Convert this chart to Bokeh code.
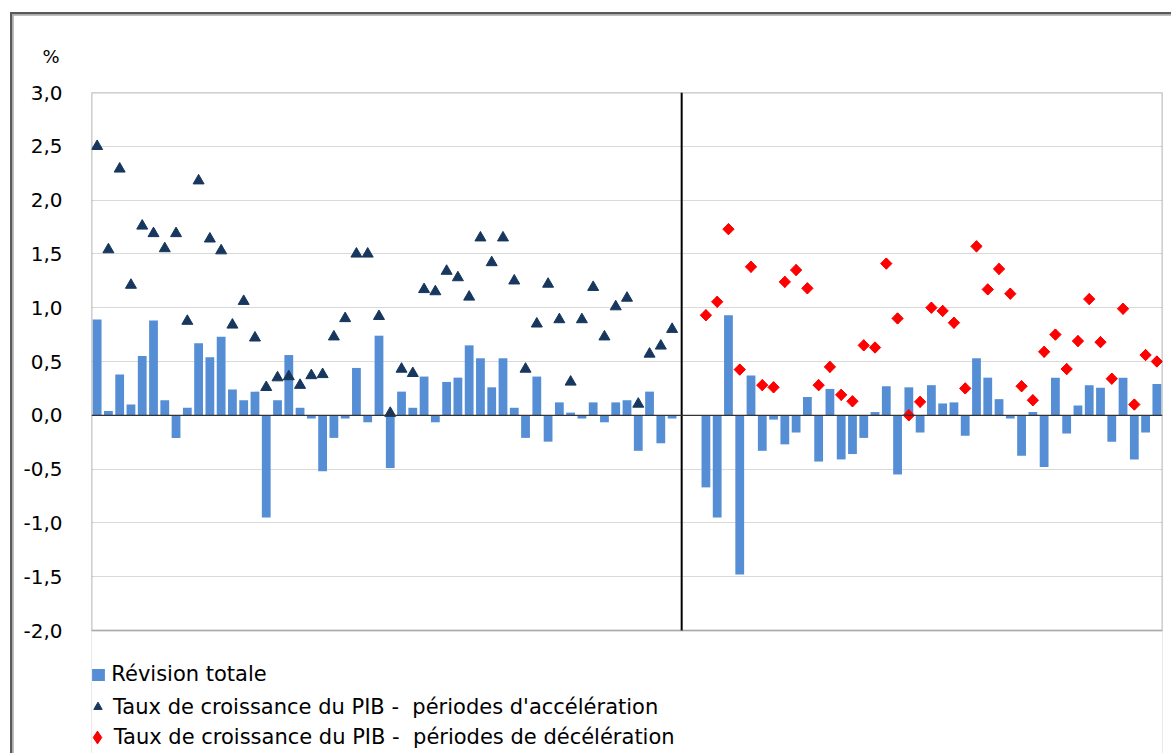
import numpy as np
from bokeh.plotting import figure
from bokeh.models import (Range1d, FixedTicker, CustomJSTickFormatter, Span, Title,
                          Legend, LegendItem, BoxAnnotation)
from bokeh.embed import file_html
from bokeh.resources import INLINE

# ---- data ----
accel_revision = [0.89, 0.04, 0.38, 0.10, 0.55, 0.88, 0.14, -0.21, 0.07, 0.67, 0.54, 0.73, 0.24,
                  0.14, 0.22, -0.95, 0.14, 0.56, 0.07, -0.03, -0.52, -0.21, -0.03, 0.44, -0.065, 0.74,
                  -0.49, 0.22, 0.07, 0.36, -0.065, 0.31, 0.35, 0.65, 0.53, 0.26, 0.53, 0.07, -0.21,
                  0.36, -0.245, 0.12, 0.025, -0.03, 0.12, -0.065, 0.12, 0.14, -0.33, 0.22, -0.26, -0.03]
accel_growth = [2.50, 1.54, 2.29, 1.21, 1.76, 1.69, 1.55, 1.69, 0.875, 2.18, 1.64, 1.53, 0.84,
                1.06, 0.72, 0.26, 0.35, 0.36, 0.28, 0.37, 0.38, 0.73, 0.90, 1.50, 1.50, 0.92,
                0.02, 0.43, 0.39, 1.17, 1.15, 1.34, 1.28, 1.10, 1.65, 1.42, 1.65, 1.25, 0.43,
                0.85, 1.22, 0.89, 0.31, 0.89, 1.19, 0.73, 1.01, 1.09, 0.105, 0.57, 0.645, 0.80]
decel_revision = [-0.67, -0.95, 0.93, -1.48, 0.37, -0.33, -0.04, -0.27, -0.16, 0.17, -0.43, 0.245,
                  -0.41, -0.36, -0.21, 0.03, 0.27, -0.55, 0.26, -0.16, 0.28, 0.11, 0.12, -0.19,
                  0.53, 0.35, 0.15, -0.03, -0.375, 0.03, -0.48, 0.35, -0.17, 0.09, 0.28, 0.255,
                  -0.245, 0.35, -0.41, -0.16, 0.29]
decel_growth = [0.93, 1.055, 1.73, 0.425, 1.38, 0.28, 0.26, 1.24, 1.35, 1.18, 0.28, 0.45, 0.19,
                0.13, 0.65, 0.63, 1.41, 0.90, 0.0, 0.125, 1.00, 0.97, 0.86, 0.25, 1.57, 1.17,
                1.36, 1.13, 0.27, 0.14, 0.59, 0.75, 0.43, 0.69, 1.08, 0.68, 0.34, 0.99, 0.10,
                0.56, 0.50]
y_ticks = [-2.0, -1.5, -1.0, -0.5, 0.0, 0.5, 1.0, 1.5, 2.0, 2.5, 3.0]
unit_label = "%"
legend_labels = ["Révision totale",
                 "Taux de croissance du PIB -  périodes d'accélération",
                 "Taux de croissance du PIB -  périodes de décélération"]

GAP = 2  # empty slots between the two periods
accel_x = np.arange(len(accel_revision))
decel_x = np.arange(len(decel_revision)) + len(accel_revision) + GAP
n_total = len(accel_revision) + GAP + len(decel_revision)
all_x = np.concatenate([accel_x, decel_x])
all_rev = accel_revision + decel_revision

FONT = "DejaVu Sans"

# layout (pixels)
OFF_X, OFF_Y = 13, 15          # outer chart frame (CSS border + padding) offset
W, H = 1174 - OFF_X, 756 - OFF_Y
PLOT_L, PLOT_T, PLOT_R, PLOT_B = 91, 92, 1162, 630   # plot area in page pixels
LEGEND_SPACE = 756 - PLOT_B
y_lo, y_hi = y_ticks[0], y_ticks[-1]
y_start = y_lo - LEGEND_SPACE * (y_hi - y_lo) / (PLOT_B - PLOT_T)

p = figure(width=W, height=H, x_range=Range1d(-0.5, n_total - 0.5),
           y_range=Range1d(y_start, y_hi), output_backend="svg",
           toolbar_location=None, x_axis_location=None,
           min_border_left=PLOT_L - OFF_X, min_border_right=1174 - PLOT_R,
           min_border_top=PLOT_T - OFF_Y, min_border_bottom=0)
p.styles = {"margin-left": "10px", "margin-top": "12px",
            "border-left": "2px solid #595959", "border-top": "2px solid #595959",
            "padding-left": "1px", "padding-top": "1px", "background-color": "#ABABAB"}
p.outline_line_color = None
p.xgrid.visible = False
p.ygrid.ticker = FixedTicker(ticks=y_ticks)
p.ygrid.grid_line_color = "#D9D9D9"
p.ygrid.grid_line_width = 1

ax = p.yaxis[0]
ax.ticker = FixedTicker(ticks=y_ticks)
ax.formatter = CustomJSTickFormatter(code="return tick.toFixed(1).replace('.', ',');")
ax.major_tick_line_color = None
ax.minor_tick_line_color = None
ax.axis_line_color = None
ax.major_label_standoff = 23
ax.major_label_text_font = FONT
ax.major_label_text_font_size = "20px"
ax.major_label_text_color = "black"

bars = p.vbar(x=all_x, top=all_rev, width=0.78, fill_color="#558ED5", line_color=None)
tri = p.scatter(accel_x, accel_growth, marker="triangle", size=11,
                fill_color="#17375E", line_color="#17375E")
# diamond-shaped marker (used for the legend swatch), covered by the rotated squares
dia_key = p.scatter(decel_x, decel_growth, marker="diamond", size=11,
                    fill_color="#FF0000", line_color="#FF0000")
dia = p.scatter(decel_x, decel_growth, marker="square", angle=np.pi / 4, size=8,
                fill_color="#FF0000", line_color="#FF0000")

p.add_layout(Span(location=0, dimension="width", line_color="#333333", line_width=1.3))
div_x = len(accel_revision) - 0.15
p.segment(x0=[div_x], y0=[y_lo], x1=[div_x], y1=[y_hi], line_color="black", line_width=2)

# plot-area border
p.add_layout(BoxAnnotation(left=-0.5, right=n_total - 0.5, bottom=y_lo, top=y_hi,
                           fill_alpha=0, line_color="#3F3F3F", line_width=2))

p.add_layout(Title(text=unit_label, align="left", offset=-49, standoff=51,
                   text_font=FONT, text_font_size="18px", text_font_style="normal",
                   text_color="black"), "above")


def make_legend(item, loc, gw, gh, standoff):
    lg = Legend(items=[item], location=loc, orientation="vertical",
                glyph_width=gw, glyph_height=gh, label_standoff=standoff,
                label_height=gh + 13, padding=0, margin=0, spacing=0,
                border_line_color=None, background_fill_alpha=0,
                label_text_font=FONT, label_text_font_size="21px",
                label_text_baseline="alphabetic", label_text_color="black")
    p.add_layout(lg, "center")


make_legend(LegendItem(label=legend_labels[0], renderers=[bars]), (-0.7, 68), 16, 15, 5)
make_legend(LegendItem(label=legend_labels[1], renderers=[tri]), (-4, 32.3), 21, 21, 5)
make_legend(LegendItem(label=legend_labels[2], renderers=[dia_key]), (-10.3, -3.2), 32, 32, 1)

open("out.html", "w").write(file_html(p, INLINE))
